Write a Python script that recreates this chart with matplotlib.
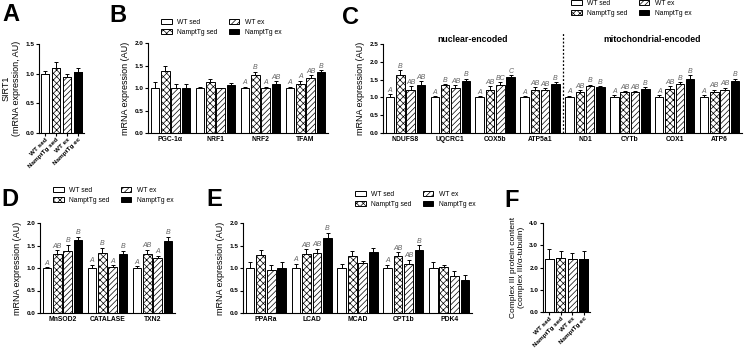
import numpy as np
import matplotlib
matplotlib.use('Agg')
import matplotlib.pyplot as plt
from matplotlib.patches import Patch

plt.rcParams['font.family'] = ['Liberation Sans', 'DejaVu Sans']
plt.rcParams['hatch.linewidth'] = 0.5

# groups
groups = ['WT sed', 'NamptTg sed', 'WT ex', 'NamptTg ex']

# A: SIRT1
a_means = [1.0, 1.09, 0.95, 1.02]
a_errs = [0.04, 0.10, 0.04, 0.08]

# B
b_genes = ['PGC-1\u03b1', 'NRF1', 'NRF2', 'TFAM']
b_means = [[1.0, 1.37, 1.0, 0.99], [1.0, 1.13, 0.99, 1.06],
           [1.0, 1.28, 0.99, 1.10], [1.0, 1.09, 1.23, 1.35]]
b_errs = [[0.14, 0.12, 0.09, 0.10], [0.02, 0.08, 0.02, 0.05],
          [0.03, 0.08, 0.04, 0.05], [0.03, 0.07, 0.06, 0.05]]
b_letters = [['', '', '', ''], ['', '', '', ''],
             ['A', 'B', 'A', 'AB'], ['A', 'A', 'AB', 'B']]

# C
c_genes = ['NDUFS8', 'UQCRC1', 'COX5b', 'ATP5a1', 'ND1', 'CYTb', 'COX1', 'ATP6']
c_means = [[1.0, 1.62, 1.22, 1.36], [1.0, 1.34, 1.27, 1.47],
           [1.0, 1.21, 1.36, 1.56], [1.0, 1.20, 1.20, 1.38],
           [1.0, 1.16, 1.31, 1.28], [1.0, 1.14, 1.14, 1.25],
           [1.0, 1.25, 1.37, 1.53], [1.0, 1.15, 1.22, 1.45]]
c_errs = [[0.09, 0.15, 0.10, 0.10], [0.04, 0.04, 0.07, 0.06],
          [0.03, 0.10, 0.07, 0.06], [0.03, 0.08, 0.06, 0.05],
          [0.05, 0.04, 0.05, 0.03], [0.06, 0.04, 0.03, 0.04],
          [0.07, 0.07, 0.05, 0.09], [0.06, 0.07, 0.05, 0.08]]
c_letters = [['A', 'B', 'AB', 'AB'], ['A', 'B', 'AB', 'B'],
             ['A', 'AB', 'BC', 'C'], ['A', 'AB', 'AB', 'B'],
             ['A', 'AB', 'B', 'B'], ['A', 'AB', 'AB', 'B'],
             ['A', 'AB', 'B', 'B'], ['A', 'AB', 'AB', 'B']]

# D
d_genes = ['MnSOD2', 'CATALASE', 'TXN2']
d_means = [[1.0, 1.32, 1.38, 1.62], [1.0, 1.34, 1.02, 1.32], [1.0, 1.32, 1.23, 1.60]]
d_errs = [[0.02, 0.07, 0.14, 0.07], [0.07, 0.11, 0.04, 0.06], [0.04, 0.09, 0.04, 0.10]]
d_letters = [['A', 'AB', 'B', 'B'], ['A', 'B', 'A', 'B'], ['A', 'AB', 'A', 'B']]

# E
e_genes = ['PPARa', 'LCAD', 'MCAD', 'CPT1b', 'PDK4']
e_means = [[1.0, 1.30, 0.95, 1.01], [1.0, 1.31, 1.34, 1.66], [1.0, 1.27, 1.12, 1.35],
           [1.0, 1.26, 1.10, 1.41], [1.0, 1.03, 0.83, 0.74]]
e_errs = [[0.13, 0.10, 0.11, 0.12], [0.10, 0.11, 0.09, 0.12], [0.09, 0.11, 0.04, 0.10],
          [0.07, 0.09, 0.08, 0.10], [0.14, 0.04, 0.10, 0.11]]
e_letters = [['', '', '', ''], ['A', 'AB', 'AB', 'B'], ['', '', '', ''],
             ['A', 'AB', 'AB', 'B'], ['', '', '', '']]

# F: complex III protein
f_means = [2.40, 2.43, 2.38, 2.38]
f_errs = [0.45, 0.33, 0.28, 0.35]

fills = ['white', 'white', 'white', 'black']
hatches = [None, 'xxxxx', '//////', None]
TICK = 4.6
W, H = 745, 352

fig = plt.figure(figsize=(W / 100, H / 100), dpi=100)


def make_ax(x0, x1, ytop, ybot):
    return fig.add_axes([x0 / W, 1 - ybot / H, (x1 - x0) / W, (ybot - ytop) / H])


def style(ax, ymax, step, ylabel, ylsize=6.5):
    ax.spines[['top', 'right']].set_visible(False)
    for s in ['left', 'bottom']:
        ax.spines[s].set_linewidth(0.8)
    ticks = np.arange(0, ymax + 1e-9, step)
    ax.set_ylim(0, ymax)
    ax.set_yticks(ticks)
    ax.set_yticklabels(['{:.1f}'.format(t) for t in ticks], fontweight='bold', fontsize=TICK)
    ax.tick_params(axis='y', width=0.8, length=2.5, pad=1)
    ax.set_ylabel(ylabel, fontsize=ylsize, labelpad=3, linespacing=1.2)


def grouped(ax, genes, means, errs, letters):
    means = np.array(means)
    errs = np.array(errs)
    x = np.arange(len(genes))
    for j in range(4):
        xs = x + (j - 1.5) * 0.23
        ax.bar(xs, means[:, j], 0.19, color=fills[j], edgecolor='black',
               hatch=hatches[j], lw=0.7, zorder=2)
        ax.errorbar(xs, means[:, j], yerr=[np.zeros(len(x)), errs[:, j]], fmt='none',
                    ecolor='black', elinewidth=0.7, capsize=1.6, capthick=0.7, zorder=1)
        for i, xi in enumerate(xs):
            if letters[i][j]:
                ax.text(xi, means[i, j] + errs[i, j] + 0.01, letters[i][j], ha='center',
                        va='bottom', style='italic', color='#666666', fontsize=5)
    ax.set_xticks(x)
    ax.set_xticklabels(genes, fontweight='bold', fontsize=TICK + 0.3)
    ax.set_xlim(-0.5, len(genes) - 0.5)
    ax.tick_params(axis='x', length=0, pad=2)


def single(ax, means, errs):
    x = np.arange(4)
    ax.bar(x, means, 0.8, color=fills, edgecolor='black', hatch=None, lw=0.7, zorder=2)
    for j in range(4):
        ax.bar(x[j], means[j], 0.8, color=fills[j], edgecolor='black',
               hatch=hatches[j], lw=0.7, zorder=2)
    ax.errorbar(x, means, yerr=[np.zeros(4), errs], fmt='none', ecolor='black',
                elinewidth=0.7, capsize=1.6, capthick=0.7, zorder=1)
    ax.set_xticks(x)
    ax.set_xticklabels(groups, rotation=45, ha='right', rotation_mode='anchor',
                       fontweight='bold', fontsize=TICK)
    ax.set_xlim(-0.55, 3.55)
    ax.tick_params(axis='x', width=0.8, length=2, pad=1)


def legend(x, y):
    handles = [Patch(facecolor=fills[j], edgecolor='black', hatch=hatches[j], lw=0.7)
               for j in range(4)]
    fig.legend(handles, groups, loc='upper left', bbox_to_anchor=(x / W, 1 - y / H),
               ncol=2, frameon=False, fontsize=TICK + 0.3, borderpad=0, borderaxespad=0,
               handlelength=1.6, handleheight=0.7, handletextpad=0.8,
               labelspacing=0.45, columnspacing=1.6)


# A
ax = make_ax(39, 84, 44, 133)
single(ax, a_means, a_errs)
style(ax, 1.5, 0.5, 'SIRT1\n(mRNA expression, AU)')

# B
ax = make_ax(148, 328, 43, 133)
grouped(ax, b_genes, b_means, b_errs, b_letters)
style(ax, 2.0, 0.5, 'mRNA expression (AU)')
legend(161, 19)

# C
ax = make_ax(383, 742, 44, 133)
grouped(ax, c_genes, c_means, c_errs, c_letters)
style(ax, 2.5, 0.5, 'mRNA expression (AU)')
ax.plot([3.5, 3.5], [0, 2.8], ls=(0, (1.5, 1.5)), color='black', lw=0.9, clip_on=False)
ax.text(1.5, 2.64, 'nuclear-encoded', ha='center', va='center', fontweight='bold',
        fontsize=6.3, clip_on=False)
ax.text(5.5, 2.64, 'mitochondrial-encoded', ha='center', va='center', fontweight='bold',
        fontsize=6.3, clip_on=False)
legend(571, 0)

# D
ax = make_ax(40, 175, 223, 313)
grouped(ax, d_genes, d_means, d_errs, d_letters)
style(ax, 2.0, 0.5, 'mRNA expression (AU)')
legend(53, 187)

# E
ax = make_ax(243, 472, 223, 313)
grouped(ax, e_genes, e_means, e_errs, e_letters)
style(ax, 2.0, 0.5, 'mRNA expression (AU)')
legend(355, 191)

# F
ax = make_ax(543, 590, 223, 312)
single(ax, f_means, f_errs)
style(ax, 4.0, 1.0, 'Complex III protein content\n(complex III/\u03b1-tubulin)', ylsize=6)

# panel letters
for lab, px, py in [('A', 2, 3), ('B', 109, 4), ('C', 342, 6),
                    ('D', 1, 188), ('E', 206, 188), ('F', 504, 189)]:
    fig.text(px / W, 1 - py / H, lab, fontsize=17, fontweight='bold', va='top', ha='left')

fig.savefig('out.png', dpi=100)
